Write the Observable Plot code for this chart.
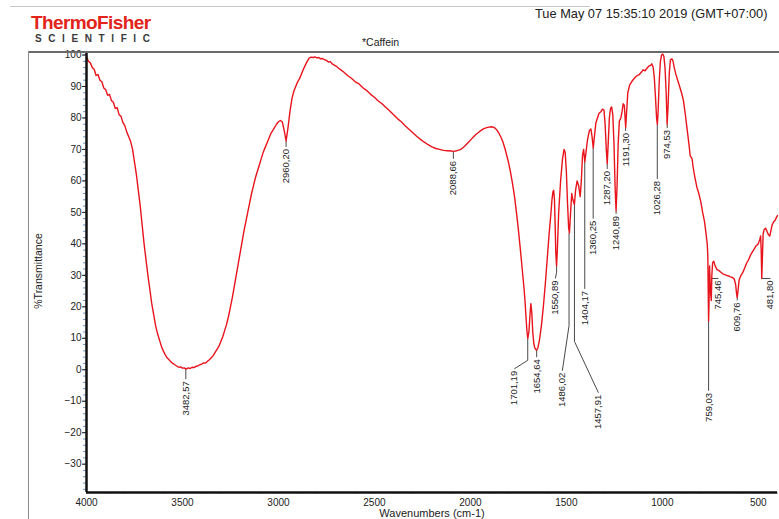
<!DOCTYPE html>
<html><head><meta charset="utf-8">
<script src="https://cdn.jsdelivr.net/npm/d3@7"></script>
<script src="https://cdn.jsdelivr.net/npm/@observablehq/plot@0.6"></script>
<style>
body{margin:0;background:#fff;font-family:"Liberation Sans",Arial,sans-serif;}
#wrap{position:relative;width:779px;height:519px;overflow:hidden;background:#fff;}
#chart{position:absolute;left:0;top:0;}
.abs{position:absolute;white-space:nowrap;}
</style></head><body>
<div id="wrap">
  <div id="chart"></div>
  <div class="abs" style="left:10px;top:6px;width:580px;height:1px;background:#c8c8c8"></div>
  <div class="abs" style="left:28px;top:51px;width:751px;height:2px;background:#6a6a6a"></div>
  <div class="abs" style="left:28px;top:51px;width:1px;height:468px;background:#8a8a8a"></div>
  <div class="abs" style="left:31px;top:12px;font-size:19px;font-weight:bold;color:#e2231a;letter-spacing:-0.6px;line-height:21px">ThermoFisher</div>
  <div class="abs" style="left:35px;top:33px;font-size:10px;font-weight:bold;color:#3a3a3a;letter-spacing:6.6px;line-height:11px">SCIENTIFIC</div>
  <div class="abs" style="left:535px;top:7px;font-size:12.8px;color:#222;line-height:14px">Tue May 07 15:35:10 2019 (GMT+07:00)</div>
  <div class="abs" style="left:362px;top:36px;font-size:10.5px;color:#222;line-height:12px">*Caffein</div>
  <div class="abs" style="left:38px;top:271px;font-size:10.5px;color:#222;transform:translate(-50%,-50%) rotate(-90deg);line-height:11px">%Transmittance</div>
  <div class="abs" style="left:432px;top:513px;font-size:11px;color:#222;transform:translate(-50%,-50%);line-height:12px">Wavenumbers (cm-1)</div>
</div>
<script>
// Spectrum: wavenumber (cm-1) and %Transmittance
const wavenumber = [4000,3990,3980,3970,3960,3950,3940,3930,3920,3910,3900,3890,3880,3870,3860,3850,3840,3830,3820,3810,3800,3790,3780,3770,3760,3750,3740,3730,3720,3710,3700,3690,3680,3670,3660,3650,3640,3630,3620,3610,3600,3590,3580,3570,3560,3550,3540,3530,3520,3510,3500,3490,3482,3470,3460,3450,3440,3430,3420,3410,3400,3390,3380,3370,3360,3350,3340,3330,3320,3310,3300,3290,3280,3270,3260,3250,3240,3230,3220,3210,3200,3190,3180,3170,3160,3150,3140,3130,3120,3110,3100,3090,3080,3070,3060,3050,3040,3030,3020,3010,3000,2990,2980,2970,2960,2950,2940,2930,2920,2910,2900,2890,2880,2870,2860,2850,2840,2830,2820,2810,2800,2790,2780,2770,2760,2750,2740,2730,2720,2700,2680,2660,2640,2620,2600,2580,2560,2540,2520,2500,2480,2460,2440,2420,2400,2380,2360,2340,2320,2300,2280,2260,2240,2220,2200,2180,2160,2140,2120,2100,2088,2070,2050,2030,2010,1990,1970,1950,1930,1910,1890,1880,1870,1860,1850,1840,1830,1820,1810,1800,1790,1780,1770,1760,1750,1740,1730,1720,1715,1710,1705,1701,1695,1690,1685,1680,1675,1670,1665,1660,1654,1648,1640,1630,1620,1610,1600,1590,1580,1575,1570,1566,1562,1558,1555,1551,1547,1540,1530,1520,1512,1506,1500,1494,1488,1484,1478,1472,1466,1458,1452,1444,1436,1428,1422,1416,1410,1404,1398,1390,1380,1372,1366,1360,1354,1346,1338,1330,1320,1312,1304,1298,1292,1287,1282,1276,1270,1264,1258,1252,1246,1241,1236,1230,1224,1216,1210,1204,1198,1194,1191,1186,1180,1170,1160,1150,1140,1130,1120,1110,1100,1090,1080,1070,1060,1055,1048,1042,1036,1030,1026,1022,1016,1010,1004,998,992,986,980,975,970,964,958,950,944,938,930,920,910,900,890,880,870,860,855,850,845,840,830,820,810,800,790,780,772,766,763,760,759,757,754,751,748,745,742,738,732,725,715,705,695,685,675,665,655,645,635,625,618,613,610,606,600,590,580,570,560,550,540,530,520,510,500,492,488,485,482,479,475,470,462,455,448,440,435,428,420,412,405,400];
const transmittance = [99.5,98,97.5,96,95.5,93.5,93.8,92,91.5,89.5,89,87.2,87.5,85.5,85,83,83.3,81,80.5,78.5,77.5,75.5,74,72.5,70,66,62,57,52,46,40,35,30,25.5,21,17.5,14,11.5,9.5,7.5,6,4.8,3.8,3.2,2.5,2,1.6,1.2,0.8,0.9,0.5,0.6,0.2,0.6,0.4,0.8,0.7,1.1,1.2,1.6,1.8,2.2,2.1,2.7,3.2,3.8,4.5,5.5,6.5,7.5,9,10.5,12.5,14.5,17,20,23,26.5,30,33.5,37,40.5,44,47,50,53,56,58.5,61,63,65,67,69,70.5,72,73.5,75,76,77,78,78.8,79.2,78.8,76,72.7,77,82,86,88.5,90,91.5,92.5,94,95.5,96.8,98,99,99.3,99.2,99.4,99.1,99.2,98.8,98.9,98.5,98.3,97.8,97.9,97.2,96.5,95.5,94.6,93.5,92.6,91.5,90.8,89.6,88.7,87.5,86.6,85.4,84.5,83.3,82.2,81,79.8,78.8,77.5,76.4,75.3,74.2,73.2,72.3,71.5,70.8,70.3,70,69.7,69.6,69.5,69.4,69.6,70,71,72.3,73.6,74.8,75.8,76.6,77,77.2,77.1,76.7,76,75,73.8,72.3,70.3,68,65.5,62.5,59,55,50,44.5,38.5,32,25.5,21.5,16.5,12,10,12,17,21,18,12,8.5,7,6.5,6.3,7,9.5,14,20,27,35,43,50,54,56.5,57,54,45,37,33,38,50,60,67,70,69,63,53,45,43.5,50,56,54,52.5,57,60,58.5,55,60,68,70,66,69,73,76,76.5,74,70.5,74,78.5,80,81.5,82,82.8,82.5,78,70,65.5,72,80,83,83.5,81,72,58,50.5,58,72,79,80,82,84.5,84,80,77,82,88,90.5,91.5,92.3,93,93.5,93.8,94.5,95.3,95,95.8,96.5,96.8,97.2,96.2,93,87,80,78,82,92,98,100,100.3,99.6,96,88,78,84,94,98.5,98.8,98,96,94,92,90,88,85.5,81,76,71,68,67.5,67,64.5,61,58,56,53.5,50,47,43,40,36,20,15.5,20,33,28,24,22,30,34,34.5,33,31.8,31.5,31,30.5,30.2,30,29.8,29.5,29.3,28.8,27,24,23,25,28.5,30,31,32.5,34,35,36.5,37.5,38.5,39.5,40,41.5,42.5,38,29,35,43,44.5,45,44,43,42.5,44,46,47,47.5,48.5,49];

// Peak annotations
const peakWn     = [3482.57,2960.20,2088.66,1701.19,1654.64,1550.89,1486.02,1457.91,1404.17,1360.25,1287.20,1240.89,1191.30,1026.28,974.53,759.03,745.46,609.76,481.80];
const peakT      = [0.2,72.7,69.4,10,6.3,33,43.5,52.5,66,70.5,65.5,50.5,77,78,78,15.5,29,23,29];
const leaderBendT= [-3,70.8,67,3,4,31,14,9,25.7,48,63.8,49.5,75.9,60.6,76.8,-6.7,29,22,29];
const labelWn    = [3482.57,2960.20,2088.66,1771,1654.64,1557,1521,1333,1404.17,1360.25,1287.20,1240.89,1191.30,1026.28,974.53,759.03,708,609.76,437];
const labelT     = [-3,70.8,67,0.3,4,29,-0.3,-7.3,25.7,48,63.8,49.5,75.9,60.6,76.8,-6.7,29,22,29];

const xTicks = [4000,3500,3000,2500,2000,1500,1000,500];
const yTicks = [100,90,80,70,60,50,40,30,20,10,0,-10,-20,-30];

const spectrum = wavenumber.map((w,i)=>({w, t: transmittance[i]}));
const peaks = peakWn.map((w,i)=>({
  w, t: peakT[i], bt: leaderBendT[i], lw: labelWn[i], lt: labelT[i],
  label: w.toFixed(2).replace(".", ",")
}));

const chart = Plot.plot({
  width: 779, height: 519,
  marginLeft: 86, marginRight: 2, marginTop: 52, marginBottom: 27,
  style: {fontFamily: "'Liberation Sans', Arial, sans-serif", background: "transparent", color: "#222"},
  x: {domain: [4000, 400], label: null},
  y: {domain: [-39, 100.8], label: null},
  marks: [
    Plot.axisY({ticks: d3.range(-38, 101, 2), tickSize: 3, text: null, stroke: "#4b78b5", strokeWidth: 0.8}),
    Plot.axisY({ticks: yTicks, tickSize: 4, tickPadding: 1, fontSize: 10, label: null, stroke: "#222", tickFormat: d3.format("d")}),
    Plot.axisX({ticks: d3.range(4000, 399, -100), tickSize: 2, text: null, stroke: "#999", strokeWidth: 0.6}),
    Plot.axisX({ticks: xTicks, tickSize: 0, tickPadding: 6, fontSize: 10, label: null, tickFormat: d3.format("d")}),
    Plot.link(peaks, {x1: "w", y1: "t", x2: "w", y2: "bt", stroke: "#333", strokeWidth: 0.9}),
    Plot.link(peaks, {x1: "w", y1: "bt", x2: "lw", y2: "lt", stroke: "#333", strokeWidth: 0.9}),
    Plot.line(spectrum, {x: "w", y: "t", stroke: "#e8141c", strokeWidth: 1.4}),
    Plot.text(peaks, {x: "lw", y: "lt", text: "label", rotate: -90, textAnchor: "end", dy: 2, fontSize: 9.5, fill: "#222"}),
    Plot.ruleX([4000], {stroke: "#111", strokeWidth: 2.5}),
    Plot.ruleY([-39], {stroke: "#111", strokeWidth: 2.5})
  ]
});
document.getElementById("chart").appendChild(chart);
</script>
</body></html>
